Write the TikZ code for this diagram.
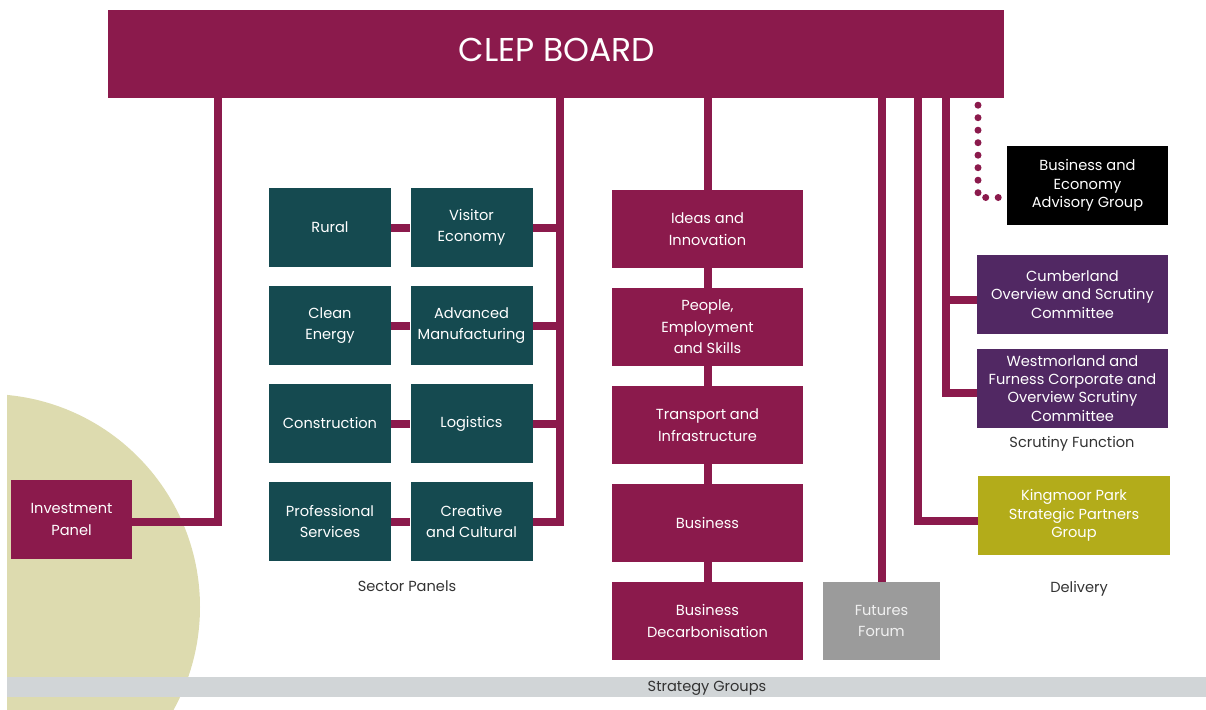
\documentclass[tikz,border=0pt]{standalone}
\usepackage{fontspec}
\setmainfont{Poppins}
\definecolor{clepred}{HTML}{8B1A4C}
\definecolor{clepteal}{HTML}{154A50}
\definecolor{cleppurple}{HTML}{512863}
\definecolor{clepolive}{HTML}{B3AC1A}
\definecolor{clepgrey}{HTML}{9B9B9B}
\definecolor{clepcircle}{HTML}{DDDBAF}
\definecolor{clepbar}{HTML}{D1D5D7}
\definecolor{cleptext}{HTML}{333333}
\tikzset{
    box/.style = {rectangle, fill = #1, text = white, align = center, inner sep = 1pt,
                  font = \fontsize{14.6}{21.5}\selectfont},
    sector/.style = {box = clepteal, minimum width = 122pt, minimum height = 79pt},
    strat/.style = {box = clepred, minimum width = 191pt, minimum height = 78pt},
    side/.style = {box = #1, minimum width = 191pt, minimum height = 79pt,
                   font = \fontsize{14.6}{18.2}\selectfont},
    link/.style = {draw = clepred, line width = 8pt},
    caption/.style = {text = cleptext, font = \fontsize{14.6}{16}\selectfont}
}
\begin{document}
\begin{tikzpicture}[x = 1pt, y = -1pt]
    \useasboundingbox (0,0) rectangle (1206,709);
    \begin{scope}
        \clip (7,0) rectangle (1206,709);
        \fill[clepcircle] (-13,607) circle (213);
    \end{scope}
    \fill[clepbar] (7,677) rectangle (1206,697);
    \node[caption] (stratlabel) at (707,688) {Strategy Groups};

    \node[box = clepred, minimum width = 896pt, minimum height = 88pt] (board) at (556,54) {};
    \node[text = white, font = \fontsize{33}{36}\selectfont] (boardtitle) at (557,50) {CLEP BOARD};

    \node[box = clepred, minimum width = 121pt, minimum height = 79pt] (invest) at (71.5,519.5) {Investment\\Panel};

    \node[sector] (rural) at (330,227.5) {Rural};
    \node[sector] (visitor) at (471.5,227.5) {Visitor\\Economy};
    \node[sector] (clean) at (330,325.5) {Clean\\Energy};
    \node[sector] (advanced) at (471.5,325.5) {Advanced\\Manufacturing};
    \node[sector] (construct) at (330,423.5) {Construction};
    \node[sector] (logistics) at (471.5,423.5) {Logistics};
    \node[sector] (profserv) at (330,521.5) {Professional\\Services};
    \node[sector] (creative) at (471.5,521.5) {Creative\\and Cultural};
    \node[caption] (sectorlabel) at (407,586) {Sector Panels};

    \node[strat] (ideas) at (707.5,229) {Ideas and\\Innovation};
    \node[strat] (people) at (707.5,327) {People,\\Employment\\and Skills};
    \node[strat] (transport) at (707.5,425) {Transport and\\Infrastructure};
    \node[strat] (business) at (707.5,523) {Business};
    \node[strat] (decarb) at (707.5,621) {Business\\Decarbonisation};

    \node[box = clepgrey, text = white!85!clepgrey, minimum width = 117pt, minimum height = 78pt] (futures) at (881.5,621) {Futures\\Forum};

    \node[side = black, minimum width = 161pt] (advisory) at (1087.5,185.5) {Business and\\Economy\\Advisory Group};
    \node[side = cleppurple] (cumberland) at (1072.5,294.5) {Cumberland\\Overview and Scrutiny\\Committee};
    \node[side = cleppurple] (westmorland) at (1072.5,388.5) {Westmorland and\\Furness Corporate and\\Overview Scrutiny\\Committee};
    \node[caption] (scrutinylabel) at (1072,444) {Scrutiny Function};
    \node[side = clepolive, minimum width = 192pt] (kingmoor) at (1074,515.5) {Kingmoor Park\\Strategic Partners\\Group};
    \node[caption] (deliverylabel) at (1079,589) {Delivery};

    \coordinate (invtrunk) at (218,0);
    \coordinate (sectrunk) at (560,0);
    \coordinate (deltrunk) at (918,0);
    \coordinate (scrtrunk) at (946,0);
    \coordinate (advtrunk) at (978,0);

    \draw[link] (board.south -| invtrunk) |- ([yshift = -2pt]invest.east);
    \draw[link] (board.south -| sectrunk) |- (creative.east);
    \foreach \n in {visitor, advanced, logistics}
        \draw[link] (\n.east) -- (\n.east -| sectrunk);
    \draw[link] (rural.east) -- (visitor.west);
    \draw[link] (clean.east) -- (advanced.west);
    \draw[link] (construct.east) -- (logistics.west);
    \draw[link] (profserv.east) -- (creative.west);

    \draw[link] (board.south -| ideas.north) -- (ideas.north);
    \draw[link] (ideas.south) -- (people.north);
    \draw[link] (people.south) -- (transport.north);
    \draw[link] (transport.south) -- (business.north);
    \draw[link] (business.south) -- (decarb.north);

    \draw[link] (board.south -| futures.north) -- (futures.north);
    \draw[link] (board.south -| deltrunk) |- ([yshift = -5pt]kingmoor.west);
    \draw[link] (board.south -| scrtrunk) |- ([yshift = -4pt]westmorland.west);
    \draw[link] ([yshift = -5pt]cumberland.west) -- ([yshift = -5pt]cumberland.west -| scrtrunk);
    \draw[link, line width = 7pt, line cap = round, dash pattern = on 0pt off 12.5pt]
        ([yshift = -7pt]board.south -| advtrunk) |- ([yshift = -12pt]advisory.west);
\end{tikzpicture}
\end{document}
